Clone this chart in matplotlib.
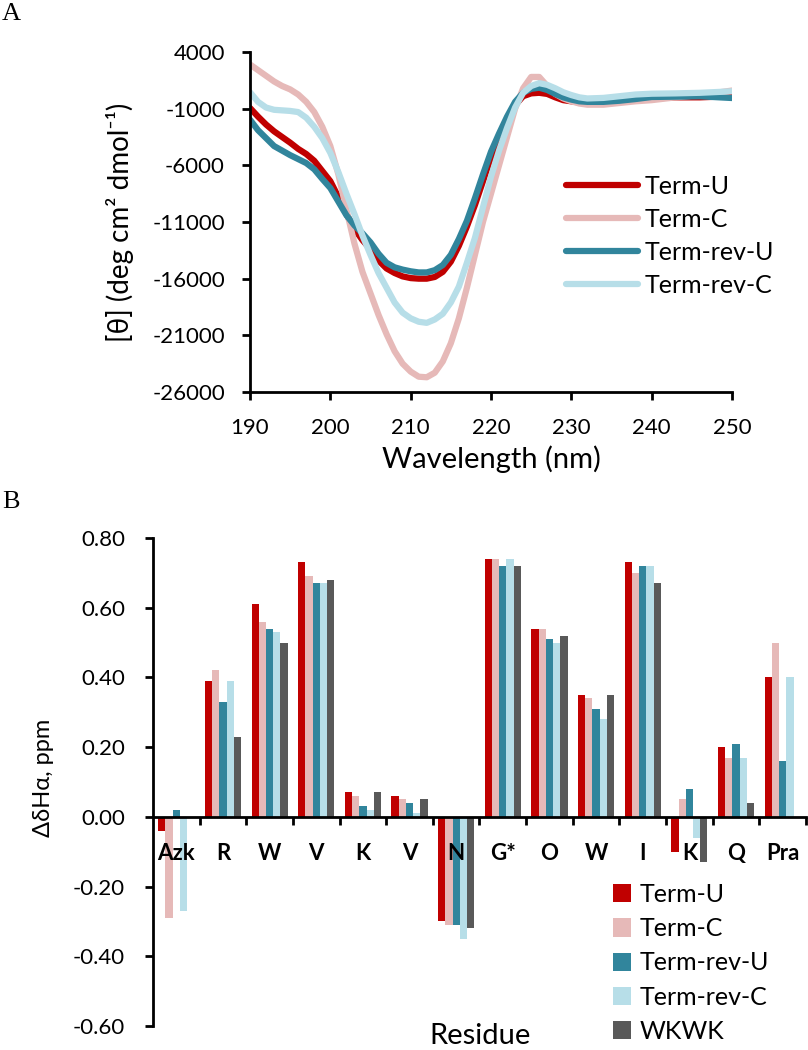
import numpy as np
import matplotlib.pyplot as plt

plt.rcParams['font.family'] = ['Lato', 'DejaVu Sans']
plt.rcParams['axes.unicode_minus'] = False

# ---- panel A: CD spectra ----
wl = [190, 191, 192, 193, 194, 195, 196, 197, 198, 199, 200, 201, 202, 203, 204,
      205, 206, 207, 208, 209, 210, 211, 212, 213, 214, 215, 216, 217, 218, 219,
      220, 221, 222, 223, 224, 225, 226, 227, 228, 229, 230, 231, 232, 234, 236,
      238, 240, 243, 246, 250]

term_u = [-940, -1700, -2400, -3000, -3500, -4000, -4550, -5000, -5600, -6500,
          -7400, -8800, -10300, -11600, -12600, -13400, -14400, -15100, -15500, -15800,
          -15950, -16000, -16000, -15850, -15400, -14500, -13100, -11400, -9500, -7400,
          -5300, -3600, -2000, -700, 100, 350, 400, 300, 0, -250,
          -350, -450, -500, -450, -300, -200, -100, 0, 0, 100]
term_c = [2900, 2400, 1900, 1400, 1000, 700, 250, -400, -1300, -2600,
          -4300, -6800, -9900, -12900, -15400, -17300, -19200, -20900, -22400, -23500,
          -24200, -24650, -24700, -24300, -23300, -21700, -19500, -16800, -13900, -11000,
          -8500, -6000, -3500, -1000, 800, 1800, 1800, 1000, 300, -100,
          -350, -550, -650, -650, -500, -350, -250, 0, 200, 600]
term_rev_u = [-1975, -2900, -3600, -4300, -4700, -5100, -5450, -5800, -6350, -7200,
              -8000, -9200, -10400, -11300, -12000, -12800, -13800, -14600, -15000, -15200,
              -15350, -15450, -15450, -15250, -14800, -13900, -12500, -10900, -8900, -6800,
              -4800, -3200, -1700, -400, 400, 750, 850, 650, 300, 0,
              -200, -350, -400, -400, -300, -150, 30, 60, 90, -60]
term_rev_c = [450, -400, -900, -1100, -1150, -1200, -1300, -1800, -2600, -3600,
              -4900, -6600, -8500, -10300, -12200, -13900, -15500, -16800, -18100, -19000,
              -19500, -19800, -19900, -19600, -19100, -18100, -16700, -14600, -12400, -9700,
              -7000, -4700, -2700, -900, 400, 1000, 1250, 1100, 800, 450,
              200, 0, -100, -50, 100, 250, 320, 350, 400, 530]

series_names = ['Term-U', 'Term-C', 'Term-rev-U', 'Term-rev-C', 'WKWK']
colors = ['#C00000', '#E6B9B8', '#31859C', '#B7DEE8', '#595959']

# ---- panel B: dHa ----
residues = ['Azk', 'R', 'W', 'V', 'K', 'V', 'N', 'G*', 'O', 'W', 'I', 'K', 'Q', 'Pra']
dha_term_u = [-0.04, 0.39, 0.61, 0.73, 0.07, 0.06, -0.30, 0.74, 0.54, 0.35, 0.73, -0.10, 0.20, 0.40]
dha_term_c = [-0.29, 0.42, 0.56, 0.69, 0.06, 0.05, -0.31, 0.74, 0.54, 0.34, 0.70, 0.05, 0.17, 0.50]
dha_rev_u = [0.02, 0.33, 0.54, 0.67, 0.03, 0.04, -0.31, 0.72, 0.51, 0.31, 0.72, 0.08, 0.21, 0.16]
dha_rev_c = [-0.27, 0.39, 0.53, 0.67, 0.02, 0.01, -0.35, 0.74, 0.50, 0.28, 0.72, -0.06, 0.17, 0.40]
dha_wkwk = [0.0, 0.23, 0.50, 0.68, 0.07, 0.05, -0.32, 0.72, 0.52, 0.35, 0.67, -0.13, 0.04, 0.0]

fig = plt.figure(figsize=(8.08, 10.5), dpi=100)
W, H = 808.0, 1050.0

# panel A
ax1 = fig.add_axes([250 / W, 1 - 392 / H, 482 / W, 340 / H])
for y, c, n in zip([term_u, term_c, term_rev_u, term_rev_c], colors, series_names):
    ax1.plot(wl, y, color=c, lw=4.5, label=n, solid_capstyle='round', solid_joinstyle='round')
ax1.set_xlim(190, 250)
ax1.set_ylim(-26000, 4000)
ax1.set_xticks(np.arange(190, 251, 10))
ax1.set_yticks(np.arange(-26000, 4001, 5000))
for s in ['top', 'right']:
    ax1.spines[s].set_visible(False)
for s in ['left', 'bottom']:
    ax1.spines[s].set_linewidth(2)
ax1.tick_params(axis='both', direction='out', length=6, width=2, labelsize=16)
ax1.tick_params(axis='y', pad=12)
ax1.tick_params(axis='x', pad=13)
fig.text(491 / W, 1 - 459 / H, 'Wavelength (nm)', fontsize=21, ha='center', va='center')
fig.text(120 / W, 1 - 222 / H, '[θ] (deg cm² dmol⁻¹)', fontsize=20, rotation=90,
         ha='center', va='center')
ax1.legend(loc='center left', bbox_to_anchor=(553 / W, 1 - 236 / H),
           bbox_transform=fig.transFigure, frameon=False, fontsize=18,
           handlelength=2.9, handletextpad=0.25, labelspacing=0.4, borderpad=0)
fig.text(2 / W, 1 - 14 / H, 'A', fontsize=19, family='Liberation Serif', va='center', ha='left')

# panel B
ax2 = fig.add_axes([153 / W, 1 - 1026 / H, 653 / W, 488 / H])
x = np.arange(len(residues))
bw = 0.155
for i, (vals, c, n) in enumerate(zip([dha_term_u, dha_term_c, dha_rev_u, dha_rev_c, dha_wkwk],
                                     colors, series_names)):
    ax2.bar(x + (i - 2) * bw, vals, width=bw, color=c, label=n, linewidth=0)
ax2.set_xlim(-0.5, len(residues) - 0.5)
ax2.set_ylim(-0.6, 0.8)
ax2.set_yticks(np.arange(-0.6, 0.81, 0.2))
ax2.set_yticklabels(['%.2f' % v for v in np.arange(-0.6, 0.81, 0.2)])
ax2.spines['bottom'].set_position(('data', 0))
for s in ['top', 'right']:
    ax2.spines[s].set_visible(False)
for s in ['left', 'bottom']:
    ax2.spines[s].set_linewidth(2)
ax2.set_xticks(np.arange(0.5, len(residues), 1.0))
ax2.set_xticklabels([])
ax2.set_xticks(x, minor=True)
ax2.set_xticklabels(residues, minor=True, fontweight='bold', fontsize=16)
ax2.tick_params(axis='x', which='major', direction='out', length=6, width=2)
ax2.tick_params(axis='x', which='minor', length=0, pad=19)
ax2.tick_params(axis='y', direction='out', length=6, width=2, labelsize=16, pad=14)
fig.text(43 / W, 1 - 778 / H, 'ΔδHα, ppm', fontsize=17, rotation=90, ha='center', va='center')
fig.text(480 / W, 1 - 1036 / H, 'Residue', fontsize=21, ha='center', va='center')
ax2.legend(loc='center left', bbox_to_anchor=(600 / W, 1 - 963 / H),
           bbox_transform=fig.transFigure, frameon=False, fontsize=18,
           handlelength=0.75, handleheight=0.75, handletextpad=0.35,
           labelspacing=0.45, borderpad=0)
fig.text(2 / W, 1 - 502 / H, 'B', fontsize=19, family='Liberation Serif', va='center', ha='left')

fig.savefig('out.png', dpi=100)
